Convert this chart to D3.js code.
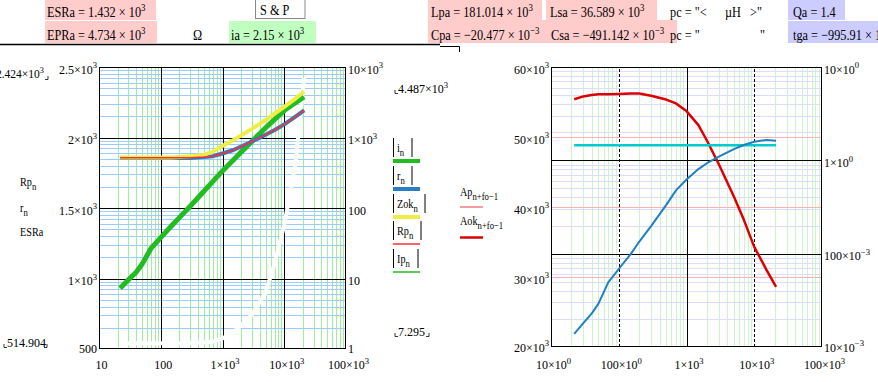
<!DOCTYPE html>
<html>
<head>
<meta charset="utf-8">
<script src="https://cdn.jsdelivr.net/npm/d3@7"></script>
<style>
body { margin: 0; background: #fff; }
svg { display: block; font-family: "Liberation Serif", "Times New Roman", serif; }
text { white-space: pre; }
</style>
</head>
<body>
<svg id="chart" width="878" height="382"></svg>
<script>
// ---- data ----
var freq    = [22, 30, 40, 50, 70, 100, 150, 200, 300, 500, 700, 1000, 1500, 2000, 3000, 5000, 7000, 10000, 15000, 21000];
// left plot, right (log) axis
var iAbs    = [7.3, 9.6, 12.3, 16, 27, 38, 56, 73, 106, 173, 239, 336, 481, 620, 881, 1375, 1807, 2410, 3090, 3750];
var rAbs    = [512, 512, 512, 512, 512, 512, 512, 512, 512, 528, 543, 593, 665, 746, 877, 1096, 1277, 1535, 1968, 2424];
var zokAbs  = [522, 522, 522, 522, 522, 522, 522, 528, 540, 567, 630, 760, 922, 1072, 1325, 1780, 2180, 2720, 3530, 4487];
var rpAbs   = [518, 518, 518, 518, 518, 518, 518, 518, 516, 528, 543, 593, 665, 746, 877, 1096, 1277, 1535, 1968, 2424];
// left plot, left (linear) axis, drawn in white
var rpLin   = [541, 541, 541, 541, 541, 541, 541, 541, 542, 546, 552, 575, 620, 665, 745, 900, 1110, 1380, 1800, 2424];
// right plot
var aok     = [55.4, 55.8, 56.0, 56.1, 56.1, 56.15, 56.2, 56.2, 55.9, 55.35, 54.8, 53.7, 51.7, 49.5, 46.1, 41.5, 38.2, 34.3, 31.1, 28.6]; // x10^3
var qaLine  = [1.45, 1.45, 1.45, 1.45, 1.45, 1.45, 1.45, 1.45, 1.45, 1.45, 1.45, 1.45, 1.45, 1.45, 1.45, 1.45, 1.45, 1.45, 1.45, 1.45];
var aBlue   = [0.0138, 0.018, 0.0229, 0.029, 0.0493, 0.0685, 0.099, 0.134, 0.197, 0.331, 0.477, 0.624, 0.806, 0.931, 1.097, 1.32, 1.46, 1.58, 1.65, 1.62];

// tick labels
var xTicks      = [10, 100, 1e3, 1e4, 1e5];
var xLabelsL    = ["10", "100", "1×10^{3}", "10×10^{3}", "100×10^{3}"];
var xLabelsR    = ["10×10^{0}", "100×10^{0}", "1×10^{3}", "10×10^{3}", "100×10^{3}"];
var linTicksL   = [500, 1000, 1500, 2000, 2500];
var linLabelsL  = ["500", "1×10^{3}", "1.5×10^{3}", "2×10^{3}", "2.5×10^{3}"];
var logTicksL   = [1, 10, 100, 1000, 10000];
var logLabelsL  = ["1", "10", "100", "1×10^{3}", "10×10^{3}"];
var linTicksR   = [20e3, 30e3, 40e3, 50e3, 60e3];
var linLabelsR  = ["20×10^{3}", "30×10^{3}", "40×10^{3}", "50×10^{3}", "60×10^{3}"];
var logTicksR   = [0.01, 0.1, 1, 10];
var logLabelsR  = ["10×10^{−3}", "100×10^{−3}", "1×10^{0}", "10×10^{0}"];

var svg = d3.select("#chart");

// text with ^{sup} and _{sub} parts
function rich(t, str, size) {
    var re = /(\^|_)\{([^}]*)\}/g, last = 0, m, cur = 0;
    function piece(s, off, fs) {
        if (!s) return;
        t.append("tspan").attr("dy", off - cur).attr("font-size", fs).text(s);
        cur = off;
    }
    while ((m = re.exec(str)) !== null) {
        piece(str.slice(last, m.index), 0, size);
        if (m[1] == "^") piece(m[2], -size * 0.42, size * 0.72);
        else piece(m[2], size * 0.33, size * 0.85);
        last = re.lastIndex;
    }
    piece(str.slice(last), 0, size);
}

function put(g, x, y, str, o) {
    o = o || {};
    var size = o.size || 12;
    var t = g.append("text")
        .attr("transform", "translate(" + x + "," + y + ") scale(" + (o.sx || 1) + ",1)")
        .attr("font-size", size)
        .attr("fill", o.fill || "#000")
        .attr("text-anchor", o.anchor || "start");
    rich(t, str, size);
    return t;
}

// grid lines drawn with d3 axes (len = length towards the plot)
function grid(g, axis, values, len, color, dash) {
    g.call(axis.tickValues(values).tickSize(-len).tickFormat(""));
    g.select(".domain").remove();
    g.selectAll(".tick line")
        .attr("stroke", color)
        .attr("stroke-width", 1)
        .attr("stroke-dasharray", dash || null)
        .attr("shape-rendering", "crispEdges");
}

// tick labels drawn with d3 axes
function labels(g, axis, values, texts, anchor, dx, dy) {
    g.call(axis.tickValues(values).tickSize(0).tickFormat(""));
    g.select(".domain").remove();
    g.attr("font-family", null).attr("font-size", null);
    g.selectAll(".tick text").each(function (d, i) {
        var t = d3.select(this)
            .attr("dy", null)
            .attr("x", typeof dx == "function" ? dx(d, i) : dx)
            .attr("y", typeof dy == "function" ? dy(d, i) : dy)
            .attr("fill", "#000")
            .attr("font-size", 12)
            .attr("text-anchor", anchor);
        rich(t, texts[i], 12);
    });
}

function minors(scale) {
    return scale.ticks().filter(function (v) {
        return Math.abs(Math.log10(v) - Math.round(Math.log10(v))) > 1e-6;
    });
}

// ================= header =================
var head = svg.append("g");
var pink = "#ffcccc", green = "#c0ffc0", lav = "#ccccff";
head.append("rect").attr("x", 45).attr("y", 0).attr("width", 111).attr("height", 20).attr("fill", pink);
head.append("rect").attr("x", 45).attr("y", 21).attr("width", 112).attr("height", 22).attr("fill", pink);
head.append("rect").attr("x", 229).attr("y", 21).attr("width", 87).attr("height", 22).attr("fill", green);
head.append("rect").attr("x", 255.5).attr("y", -1).attr("width", 49.5).attr("height", 19.5)
    .attr("fill", "#fff").attr("stroke", "#888");
head.append("rect").attr("x", 428).attr("y", 0).attr("width", 114).attr("height", 20).attr("fill", pink);
head.append("rect").attr("x", 546).attr("y", 0).attr("width", 111).attr("height", 20).attr("fill", pink);
head.append("rect").attr("x", 428).attr("y", 20).attr("width", 249).attr("height", 23).attr("fill", pink);
head.append("rect").attr("x", 788).attr("y", 0).attr("width", 57).attr("height", 20).attr("fill", lav);
head.append("rect").attr("x", 788).attr("y", 21).attr("width", 90).attr("height", 22).attr("fill", lav);

var hs = {size: 15, sx: 0.82};
put(head, 47, 17, "ESRa = 1.432 × 10^{3}", hs);
put(head, 47, 40, "EPRa = 4.734 × 10^{3}", hs);
put(head, 193, 40, "Ω", hs);
put(head, 260, 15, "S & P", hs);
put(head, 231, 40, "ia = 2.15 × 10^{3}", hs);
put(head, 431, 17, "Lpa = 181.014 × 10^{3}", hs);
put(head, 550, 17, "Lsa = 36.589 × 10^{3}", hs);
put(head, 431, 40, "Cpa = −20.477 × 10^{−3}", hs);
put(head, 551, 40, "Csa = −491.142 × 10^{−3}", hs);
put(head, 670, 17, "pc = \"<", hs);
put(head, 725, 17, "µH", hs);
put(head, 750, 17, ">\"", hs);
put(head, 670, 40, "pc = \"", hs);
put(head, 760, 40, "\"", hs);
put(head, 793, 17, "Qa = 1.4", hs);
put(head, 793, 40, "tga = −995.91 × 1", hs);

head.append("line").attr("x1", 0).attr("x2", 440).attr("y1", 44.5).attr("y2", 44.5)
    .attr("stroke", "#000").attr("stroke-width", 1.5);
head.append("path").attr("d", "M440,46.5H459.5V52").attr("fill", "none").attr("stroke", "#000");

// ================= left plot =================
var L = {x0: 99, x1: 346, y0: 67, y1: 349};
var xL = d3.scaleLog().domain([10, 1e5]).range([L.x0, L.x1]);
var yLin = d3.scaleLinear().domain([500, 2500]).range([L.y1, L.y0]);
var yLog = d3.scaleLog().domain([1, 1e4]).range([L.y1, L.y0]);
var hL = L.y1 - L.y0, wL = L.x1 - L.x0;

var gl = svg.append("g");
grid(gl.append("g").attr("transform", "translate(0," + L.y1 + ")"), d3.axisBottom(xL), minors(xL), hL, "#9cf09c");
grid(gl.append("g").attr("transform", "translate(" + L.x0 + ",0)"), d3.axisLeft(yLog), minors(yLog), wL, "#99ccff");
grid(gl.append("g").attr("transform", "translate(" + L.x0 + ",0)"), d3.axisLeft(yLog), [10, 100, 1000], wL, "#000");
grid(gl.append("g").attr("transform", "translate(0," + L.y1 + ")"), d3.axisBottom(xL), [100, 1000, 10000], hL, "#000");

svg.append("clipPath").attr("id", "clipL").append("rect")
    .attr("x", L.x0).attr("y", L.y0).attr("width", wL).attr("height", hL);
var tl = gl.append("g").attr("clip-path", "url(#clipL)").attr("fill", "none")
    .attr("stroke-linejoin", "round");

function series(vals) { return freq.map(function (f, i) { return [f, vals[i]]; }); }
var lineLin = d3.line().x(function (d) { return xL(d[0]); }).y(function (d) { return yLin(d[1]); });
var lineLog = d3.line().x(function (d) { return xL(d[0]); }).y(function (d) { return yLog(d[1]); });

tl.append("path").attr("d", lineLin(series(rpLin))).attr("stroke", "#fff").attr("stroke-width", 4);
tl.append("path").attr("d", lineLog(series(iAbs))).attr("stroke", "#22bb22").attr("stroke-width", 5);
tl.append("path").attr("d", lineLog(series(rAbs))).attr("stroke", "#2a7fc4").attr("stroke-width", 4);
tl.append("path").attr("d", lineLog(series(zokAbs))).attr("stroke", "#eeee44").attr("stroke-width", 4);
tl.append("path").attr("d", lineLog(series(rpAbs))).attr("stroke", "#ff3030").attr("stroke-width", 1.5);

gl.append("rect").attr("x", L.x0 + 0.5).attr("y", L.y0 + 0.5).attr("width", wL - 1).attr("height", hL - 1)
    .attr("fill", "none").attr("stroke", "#000");

labels(gl.append("g").attr("transform", "translate(0," + L.y1 + ")"), d3.axisBottom(xL), xTicks, xLabelsL,
    "middle", 2, 20);
labels(gl.append("g").attr("transform", "translate(" + L.x0 + ",0)"), d3.axisLeft(yLin), linTicksL, linLabelsL,
    "end", -2, function (d) { return d == 500 ? 3 : 6; });
labels(gl.append("g").attr("transform", "translate(" + L.x1 + ",0)"), d3.axisRight(yLog), logTicksL, logLabelsL,
    "start", 2, function (d) { return d == 1 ? 3 : 6; });

// axis limit readouts with corner marks
function corner(g, d) { g.append("path").attr("d", d).attr("fill", "none").attr("stroke", "#000").attr("stroke-width", 0.8); }
put(gl, 44, 78, "2.424×10^{3}", {anchor: "end", size: 11.5});
corner(gl, "M45,79.5H48V76");
put(gl, 7, 347, "514.904", {});
corner(gl, "M4,344V347.5H7");
corner(gl, "M44,347.5H47V344");
put(gl, 398, 93, "4.487×10^{3}", {});
corner(gl, "M395,90V93.5H398");
put(gl, 398, 336, "7.295", {});
corner(gl, "M395,333V336.5H398");
corner(gl, "M426,336.5H429V333");

// left axis names
var an = {size: 12, sx: 0.85};
put(gl, 20, 186, "Rp_{n}", an);
put(gl, 20, 212, "r_{n}", an);
put(gl, 20, 236, "ESRa", an);

// right legend
var legL = [
    {name: "i", y: 152, color: "#22bb22", w: 4, right: 412},
    {name: "r", y: 180, color: "#2a7fc4", w: 4, right: 412},
    {name: "Zok", y: 208, color: "#eeee44", w: 4, right: 425},
    {name: "Rp", y: 235, color: "#ff3030", w: 1.5, right: 421},
    {name: "Ip", y: 263, color: "#22bb22", w: 1.5, right: 418}
];
legL.forEach(function (d) {
    gl.append("line").attr("x1", 393.5).attr("x2", 393.5).attr("y1", d.y - 14).attr("y2", d.y + 5).attr("stroke", "#000");
    gl.append("line").attr("x1", d.right).attr("x2", d.right).attr("y1", d.y - 14).attr("y2", d.y + 5).attr("stroke", "#000");
    put(gl, 397, d.y, d.name + "_{n}", an);
    gl.append("line").attr("x1", 393).attr("x2", 420).attr("y1", d.y + 9).attr("y2", d.y + 9)
        .attr("stroke", d.color).attr("stroke-width", d.w);
});

// ================= right plot =================
var R = {x0: 551, x1: 822, y0: 67, y1: 347};
var xR = d3.scaleLog().domain([10, 1e5]).range([R.x0, R.x1]);
var yRLin = d3.scaleLinear().domain([20e3, 60e3]).range([R.y1, R.y0]);
var yRLog = d3.scaleLog().domain([0.01, 10]).range([R.y1, R.y0]);
var hR = R.y1 - R.y0, wR = R.x1 - R.x0;

var gr = svg.append("g");
grid(gr.append("g").attr("transform", "translate(0," + R.y1 + ")"), d3.axisBottom(xR), minors(xR), hR, "#ccf5cc");
grid(gr.append("g").attr("transform", "translate(" + R.x0 + ",0)"), d3.axisLeft(yRLog), minors(yRLog), wR, "#dcdcff");
grid(gr.append("g").attr("transform", "translate(" + R.x0 + ",0)"), d3.axisLeft(yRLin), [30e3, 40e3, 50e3], wR, "#ffb0b0");
grid(gr.append("g").attr("transform", "translate(" + R.x0 + ",0)"), d3.axisLeft(yRLog), [0.1, 1], wR, "#000");
grid(gr.append("g").attr("transform", "translate(0," + R.y1 + ")"), d3.axisBottom(xR), [100, 10000], hR, "#000", "3,2");
grid(gr.append("g").attr("transform", "translate(0," + R.y1 + ")"), d3.axisBottom(xR), [1000], hR, "#000");

svg.append("clipPath").attr("id", "clipR").append("rect")
    .attr("x", R.x0).attr("y", R.y0).attr("width", wR).attr("height", hR);
var tr = gr.append("g").attr("clip-path", "url(#clipR)").attr("fill", "none").attr("stroke-linejoin", "round");
var lineRLin = d3.line().x(function (d) { return xR(d[0]); }).y(function (d) { return yRLin(d[1] * 1e3); });
var lineRLog = d3.line().x(function (d) { return xR(d[0]); }).y(function (d) { return yRLog(d[1]); });

tr.append("path").attr("d", lineRLin(series(aok))).attr("stroke", "#dd0000").attr("stroke-width", 2.5);
tr.append("path").attr("d", lineRLog(series(qaLine))).attr("stroke", "#00cccc").attr("stroke-width", 2.5);
tr.append("path").attr("d", lineRLog(series(aBlue))).attr("stroke", "#1f80c0").attr("stroke-width", 2);

gr.append("rect").attr("x", R.x0 + 0.5).attr("y", R.y0 + 0.5).attr("width", wR - 1).attr("height", hR - 1)
    .attr("fill", "none").attr("stroke", "#000");

labels(gr.append("g").attr("transform", "translate(0," + R.y1 + ")"), d3.axisBottom(xR), xTicks, xLabelsR,
    "middle", 2, 22);
labels(gr.append("g").attr("transform", "translate(" + R.x0 + ",0)"), d3.axisLeft(yRLin), linTicksR, linLabelsR,
    "end", -2, function (d) { return d == 20e3 ? 4 : 6; });
labels(gr.append("g").attr("transform", "translate(" + R.x1 + ",0)"), d3.axisRight(yRLog), logTicksR, logLabelsR,
    "start", 2, function (d) { return d == 0.01 ? 4 : 6; });

// left legend of right plot
put(gr, 460, 196, "Ap_{n+fo−1}", an);
gr.append("line").attr("x1", 460).attr("x2", 483).attr("y1", 207).attr("y2", 207)
    .attr("stroke", "#f08080").attr("stroke-width", 1.5);
put(gr, 460, 225, "Aok_{n+fo−1}", an);
gr.append("line").attr("x1", 460).attr("x2", 483).attr("y1", 237.5).attr("y2", 237.5)
    .attr("stroke", "#dd0000").attr("stroke-width", 2.5);
</script>
</body>
</html>
